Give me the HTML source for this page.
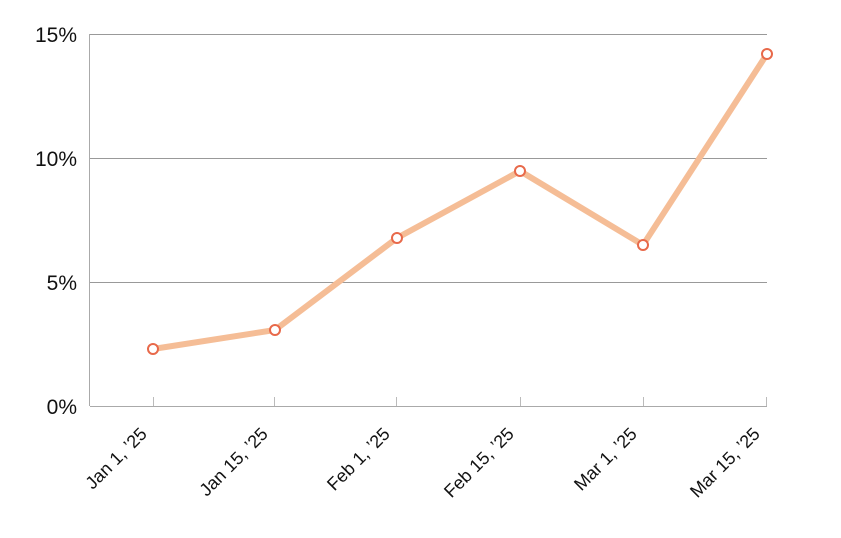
<!DOCTYPE html>
<html><head><style>body{margin:0;background:#fff}svg{display:block}</style></head><body>
<svg width="841" height="538" xmlns="http://www.w3.org/2000/svg" font-family="Liberation Sans, sans-serif">
<g stroke="#999" stroke-width="1">
<line x1="90" y1="34.5" x2="767" y2="34.5"/>
<line x1="90" y1="158.5" x2="767" y2="158.5"/>
<line x1="90" y1="282.5" x2="767" y2="282.5"/>
<line x1="90" y1="406.5" x2="767" y2="406.5" stroke="#aaa"/>
<line x1="89.5" y1="34" x2="89.5" y2="406" stroke="#aaa"/>
<line x1="153.5" y1="397" x2="153.5" y2="406" stroke="#bbb"/>
<line x1="274.5" y1="397" x2="274.5" y2="406" stroke="#bbb"/>
<line x1="396.5" y1="397" x2="396.5" y2="406" stroke="#bbb"/>
<line x1="520.5" y1="397" x2="520.5" y2="406" stroke="#bbb"/>
<line x1="643.5" y1="397" x2="643.5" y2="406" stroke="#bbb"/>
<line x1="766.5" y1="397" x2="766.5" y2="406" stroke="#bbb"/>
</g>
<g font-size="21" fill="#111" text-anchor="end">
<text x="77" y="42">15%</text>
<text x="77" y="166">10%</text>
<text x="77" y="290">5%</text>
<text x="77" y="414">0%</text>
</g>
<g font-size="18" fill="#111" text-anchor="end">
<text transform="translate(148,435) rotate(-45)">Jan 1, ’25</text>
<text transform="translate(269,435) rotate(-45)">Jan 15, ’25</text>
<text transform="translate(391,435) rotate(-45)">Feb 1, ’25</text>
<text transform="translate(515,435) rotate(-45)">Feb 15, ’25</text>
<text transform="translate(638,435) rotate(-45)">Mar 1, ’25</text>
<text transform="translate(761,435) rotate(-45)">Mar 15, ’25</text>
</g>
<polyline points="153,349 275,330 397,238 520,171 643,245 767,54" fill="none" stroke="#f5bd96" stroke-width="6" stroke-linejoin="round" stroke-linecap="round"/>
<g fill="#fff" stroke="#e8694a" stroke-width="2">
<circle cx="153" cy="349" r="5"/>
<circle cx="275" cy="330" r="5"/>
<circle cx="397" cy="238" r="5"/>
<circle cx="520" cy="171" r="5"/>
<circle cx="643" cy="245" r="5"/>
<circle cx="767" cy="54" r="5"/>
</g>
</svg>
</body></html>
